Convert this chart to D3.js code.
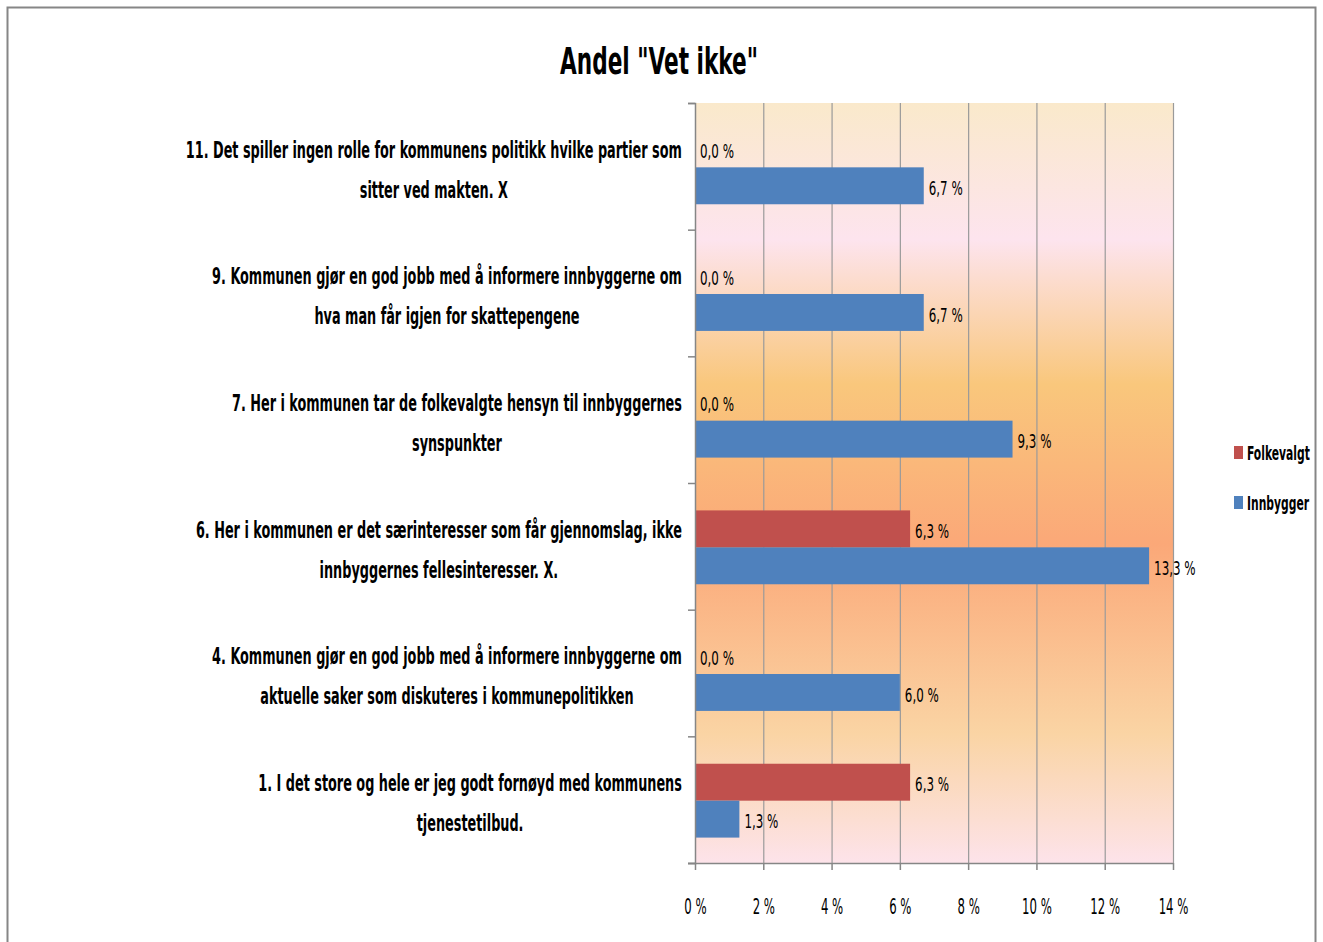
<!DOCTYPE html>
<html>
<head>
<meta charset="utf-8">
<script src="https://cdn.jsdelivr.net/npm/d3@7"></script>
<style>
  body { margin: 0; background: #fff; }
  text { font-family: "DejaVu Sans Condensed", "DejaVu Sans", sans-serif; fill: #000; }
</style>
</head>
<body>
<div class="container"></div>
<script>
// categories, top to bottom, split on the two lines shown in the chart
const categories = [
  ["11. Det spiller ingen rolle for kommunens politikk hvilke partier som", "sitter ved makten. X"],
  ["9. Kommunen gjør en god jobb med å informere innbyggerne om", "hva man får igjen for skattepengene"],
  ["7. Her i kommunen tar de folkevalgte hensyn til innbyggernes", "synspunkter"],
  ["6. Her i kommunen er det særinteresser som får gjennomslag, ikke", "innbyggernes fellesinteresser. X."],
  ["4. Kommunen gjør en god jobb med å informere innbyggerne om", "aktuelle saker som diskuteres i kommunepolitikken"],
  ["1. I det store og hele er jeg godt fornøyd med kommunens", "tjenestetilbud."]
];
const seriesNames = ["Folkevalgt", "Innbygger"];
const folkevalgt = [0.0, 0.0, 0.0, 6.3, 0.0, 6.3];
const innbygger = [6.7, 6.7, 9.3, 13.3, 6.0, 1.3];
const xTicks = [0, 2, 4, 6, 8, 10, 12, 14];
const colors = ["#C0504D", "#4F81BD"];
const title = "Andel \"Vet ikke\"";

const width = 1323, height = 942;
const plotLeft = 695, plotRight = 1173, plotTop = 103, plotBottom = 863;

let svg = d3.select(".container")
  .append("svg")
  .attr("width", width)
  .attr("height", height);

// outer chart border
svg.append("rect")
  .attr("x", 7.5)
  .attr("y", 7.5)
  .attr("width", 1308)
  .attr("height", 980)
  .attr("fill", "#fff")
  .attr("stroke", "#868686")
  .attr("stroke-width", 2);

// plot area gradient
let grad = svg.append("defs").append("linearGradient")
  .attr("id", "bg")
  .attr("x1", 0).attr("y1", 0)
  .attr("x2", 0).attr("y2", 1);
[[0, "#FAE9CB"], [0.18, "#FDE4EE"], [0.37, "#F9C77C"], [0.58, "#FBA878"],
 [0.83, "#FAD4A4"], [1, "#FDE3EA"]].forEach(s => {
  grad.append("stop").attr("offset", s[0]).attr("stop-color", s[1]);
});

svg.append("rect")
  .attr("x", plotLeft)
  .attr("y", plotTop)
  .attr("width", plotRight - plotLeft)
  .attr("height", plotBottom - plotTop)
  .attr("fill", "url(#bg)");

let x = d3.scaleLinear().domain([0, 14]).range([plotLeft, plotRight]);
let y0 = d3.scaleBand()
  .domain(d3.range(categories.length))
  .range([plotTop, plotBottom])
  .paddingInner(0.417)
  .paddingOuter(0.2085);
let y1 = d3.scaleBand()
  .domain(seriesNames)
  .range([0, y0.bandwidth()]);
let yEdge = d3.scaleLinear().domain([0, categories.length]).range([plotTop, plotBottom]);

// vertical gridlines
svg.append("g")
  .selectAll("line")
  .data(xTicks.slice(1))
  .join("line")
  .attr("x1", d => x(d) + 0.5)
  .attr("x2", d => x(d) + 0.5)
  .attr("y1", plotTop)
  .attr("y2", plotBottom)
  .attr("stroke", "#9a9a9a")
  .attr("stroke-width", 1.2);

// bars
const values = [folkevalgt, innbygger];
seriesNames.forEach((s, si) => {
  svg.append("g")
    .selectAll("rect")
    .data(values[si])
    .join("rect")
    .attr("x", x(0))
    .attr("y", (d, i) => y0(i) + y1(s) + 1)
    .attr("width", d => x(d) - x(0))
    .attr("height", y1.bandwidth())
    .attr("fill", colors[si]);

  svg.append("g")
    .selectAll("text")
    .data(values[si])
    .join("text")
    .attr("transform", (d, i) => `translate(${x(d) + 5},${y0(i) + y1(s) + y1.bandwidth() / 2 + 3}) scale(0.66,1)`)
    .attr("dy", "0.36em")
    .attr("font-size", 20)
    .text(d => d.toFixed(1).replace(".", ",") + " %");
});

// x axis
let xAxis = svg.append("g")
  .attr("transform", `translate(0,${plotBottom})`)
  .call(d3.axisBottom(x)
    .tickValues(xTicks)
    .tickSize(7)
    .tickPadding(29)
    .tickFormat(d => d + " %"));
xAxis.select(".domain")
  .attr("stroke", "#868686")
  .attr("stroke-width", 1.5)
  .attr("d", `M${plotLeft - 7},0.5H${plotRight}`);
xAxis.selectAll(".tick line").attr("stroke", "#868686").attr("stroke-width", 1.5);
xAxis.selectAll(".tick text")
  .attr("font-size", 21)
  .attr("fill", "#000")
  .attr("transform", "scale(0.62,1)");
xAxis.attr("font-family", null);

// y axis with ticks on category boundaries
let yAxis = svg.append("g")
  .attr("transform", `translate(${plotLeft},0)`)
  .call(d3.axisLeft(yEdge)
    .ticks(categories.length)
    .tickSize(7)
    .tickFormat(""));
yAxis.select(".domain").attr("stroke", "#868686").attr("stroke-width", 1.5);
yAxis.selectAll(".tick line").attr("stroke", "#868686").attr("stroke-width", 1.5);

// category labels: centred lines, block right-aligned at the axis
const labelScale = 0.62;
categories.forEach((lines, i) => {
  const cy = y0(i) + y0.bandwidth() / 2 + 3;
  let texts = lines.map(line => svg.append("text")
    .attr("font-size", 23)
    .attr("font-weight", "bold")
    .attr("text-anchor", "middle")
    .attr("dy", "0.36em")
    .text(line));
  const maxW = d3.max(texts, t => t.node().getComputedTextLength()) * labelScale;
  const cx = plotLeft - 13 - maxW / 2;
  texts.forEach((t, li) => {
    t.attr("transform", `translate(${cx},${cy + (li - 0.5) * 40}) scale(${labelScale},1)`);
  });
});

// title
svg.append("text")
  .attr("transform", "translate(659,61) scale(0.65,1)")
  .attr("text-anchor", "middle")
  .attr("dy", "0.36em")
  .attr("font-size", 37)
  .attr("font-weight", "bold")
  .text(title);

// legend
let legend = svg.append("g");
seriesNames.forEach((s, i) => {
  legend.append("rect")
    .attr("x", 1234)
    .attr("y", 446 + i * 50)
    .attr("width", 9)
    .attr("height", 13)
    .attr("fill", colors[i]);
  legend.append("text")
    .attr("transform", `translate(1247,${453 + i * 50}) scale(0.63,1)`)
    .attr("dy", "0.36em")
    .attr("font-size", 19)
    .attr("font-weight", "bold")
    .text(s);
});
</script>
</body>
</html>
